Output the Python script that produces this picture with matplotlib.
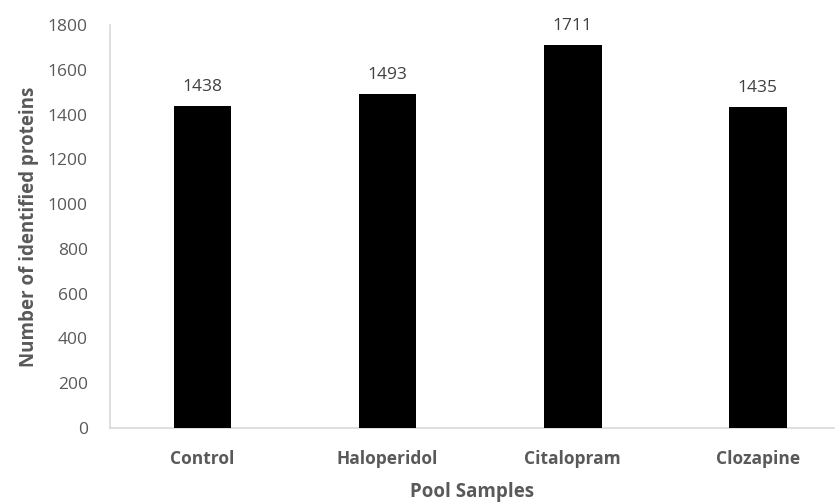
import matplotlib
matplotlib.use("Agg")
import matplotlib.pyplot as plt

categories = ["Control", "Haloperidol", "Citalopram", "Clozapine"]
values = [1438, 1493, 1711, 1435]
yticks = [0, 200, 400, 600, 800, 1000, 1200, 1400, 1600, 1800]

plt.rcParams['font.family'] = ['Open Sans', 'DejaVu Sans']
grey = '#595959'
axc = '#d9d9d9'

fig = plt.figure(figsize=(8.36, 5.04), dpi=100)
ax = fig.add_axes([110/836, 76/504, 724/836, 403/504])
x = list(range(len(categories)))
ax.bar(x, values, width=0.313, color='black', zorder=3)
for xi, v in zip(x, values):
    ax.annotate(str(v), (xi, v), xytext=(0, 8), textcoords='offset points',
                ha='center', va='bottom', fontsize=12.5, color='#404040')
ax.set_ylim(0, 1800)
ax.set_xlim(-0.5, 3.413)
ax.set_yticks(yticks)
ax.set_yticklabels([str(t) for t in yticks], fontsize=12.5, color=grey)
ax.set_xticks(x)
ax.set_xticklabels(categories, fontsize=12.5, fontweight='bold', color=grey)
ax.tick_params(axis='both', length=0)
ax.tick_params(axis='x', pad=16)
ax.tick_params(axis='y', pad=16)
for s in ['top', 'right']:
    ax.spines[s].set_visible(False)
for s in ['left', 'bottom']:
    ax.spines[s].set_color(axc)
    ax.spines[s].set_linewidth(1.2)
ax.set_ylabel("Number of identified proteins", fontsize=13.5, fontweight='bold', color=grey, labelpad=6)
ax.set_xlabel("Pool Samples", fontsize=13.5, fontweight='bold', color=grey, labelpad=10)
fig.savefig("out.png", dpi=100)
